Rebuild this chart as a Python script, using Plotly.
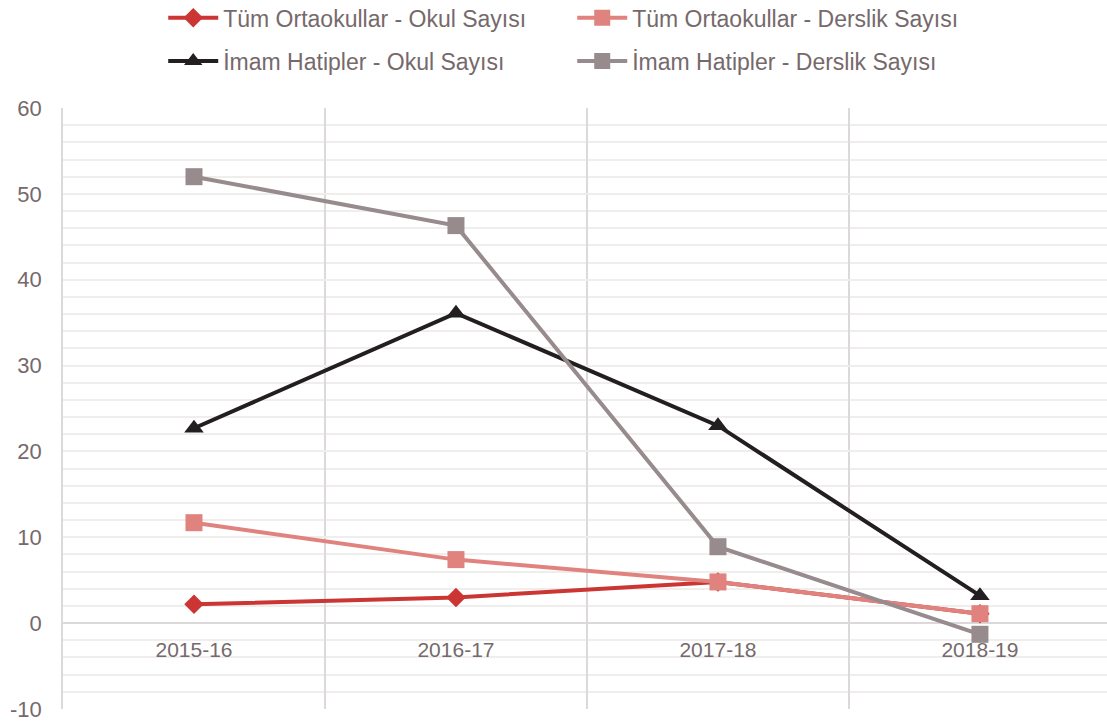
import plotly.graph_objects as go

categories = ["2015-16", "2016-17", "2017-18", "2018-19"]
tum_okul = [2.2, 3.0, 4.8, 1.1]
tum_derslik = [11.7, 7.4, 4.8, 1.1]
ih_okul = [22.7, 36.1, 23.0, 3.2]
ih_derslik = [52.0, 46.3, 8.9, -1.3]
y_ticks = [-10, 0, 10, 20, 30, 40, 50, 60]
y_tick_labels = ["-10", "0", "10", "20", "30", "40", "50", "60"]

names = ["Tüm Ortaokullar - Okul Sayısı", "Tüm Ortaokullar - Derslik Sayısı",
         "İmam Hatipler - Okul Sayısı", "İmam Hatipler - Derslik Sayısı"]
colors = ["#CB3533", "#E0827E", "#231F20", "#978B8D"]
symbols = ["diamond", "square", "triangle-up", "square"]
sizes = [15, 17, 17, 17]
legends = ["legend", "legend", "legend2", "legend2"]
series = [tum_okul, tum_derslik, ih_okul, ih_derslik]

TXT = "#76696B"
FONT = "Liberation Sans, Arial, sans-serif"

fig = go.Figure()
for name, vals, c, s, sz, lg in zip(names, series, colors, symbols, sizes, legends):
    fig.add_trace(go.Scatter(
        x=categories, y=vals, name=name, mode="lines+markers",
        line=dict(color=c, width=4),
        marker=dict(color=c, symbol=s, size=sz, line=dict(width=0)),
        legend=lg,
    ))

leg_common = dict(orientation="h", xanchor="left", yanchor="middle",
                  entrywidth=344, entrywidthmode="pixels",
                  font=dict(family=FONT, size=23, color=TXT),
                  bgcolor="rgba(0,0,0,0)", itemwidth=50)

fig.update_layout(
    width=1107, height=726,
    margin=dict(l=63, r=0, t=108, b=17, autoexpand=False),
    plot_bgcolor="white", paper_bgcolor="white",
    font=dict(family=FONT, color=TXT),
    legend=dict(x=0.096, y=1.150, **leg_common),
    legend2=dict(x=0.096, y=1.078, **leg_common),
    xaxis=dict(
        type="category", range=[-0.5, 3.485],
        tickson="boundaries", showgrid=True, gridcolor="#DDD8D9", gridwidth=1.5,
        ticks="", showline=False, zeroline=False,
        anchor="free", position=1/7,
        tickfont=dict(family=FONT, size=21, color=TXT),
        ticklabelstandoff=12,
    ),
    yaxis=dict(
        range=[-10, 60], tickvals=y_ticks, ticktext=y_tick_labels,
        showgrid=True, gridcolor="#F0EDED", gridwidth=1.5,
        minor=dict(dtick=2, showgrid=True, gridcolor="#F0EDED", gridwidth=1.5),
        zeroline=True, zerolinecolor="#DDD8D9", zerolinewidth=1.5,
        showline=True, linecolor="#DDD8D9", linewidth=1.5,
        ticks="", tickfont=dict(family=FONT, size=22, color=TXT),
        ticklabelstandoff=15,
    ),
)

fig.write_html("out.html", config={"displayModeBar": False},
               post_script="document.body.style.margin='0';document.body.style.overflow='hidden';")
